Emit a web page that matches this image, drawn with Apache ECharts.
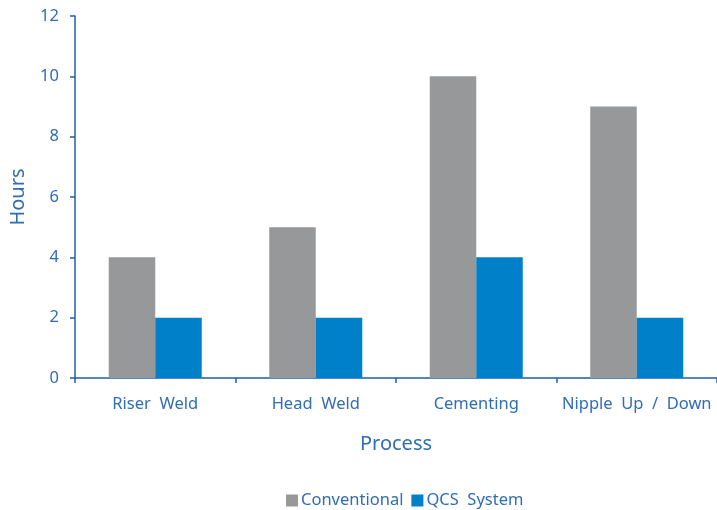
<!DOCTYPE html>
<html><head><meta charset="utf-8">
<script src="https://cdn.jsdelivr.net/npm/echarts@6/dist/echarts.min.js"></script>
<style>html,body{margin:0;padding:0;background:#fff}#c{width:717px;height:510px}</style>
</head><body><div id="c"></div>
<script>
const categories = ['Riser  Weld', 'Head  Weld', 'Cementing', 'Nipple  Up  /  Down'];
const conventional = [4, 5, 10, 9];
const qcs = [2, 2, 4, 2];
const yTicks = [0, 2, 4, 6, 8, 10, 12];

const textColor = '#2f6db5';
const axisColor = '#1d5fad';
const font = 'Noto Sans';
const chart = echarts.init(document.getElementById('c'));
chart.setOption({
  animation: false,
  textStyle: { fontFamily: font },
  grid: { left: 75, right: -2, top: 16, bottom: 132, containLabel: false },
  legend: {
    top: 487, left: 281, itemWidth: 12, itemHeight: 12, itemGap: 8,
    icon: 'rect',
    textStyle: { color: textColor, fontSize: 16.5, fontFamily: font, padding: [0, 0, 0, -2] },
    data: ['Conventional', 'QCS  System']
  },
  xAxis: {
    type: 'category', data: categories,
    name: 'Process', nameLocation: 'middle', nameGap: 56,
    nameTextStyle: { color: textColor, fontSize: 20, fontFamily: font },
    axisLine: { lineStyle: { color: axisColor, width: 1.5 } },
    axisTick: { show: true, length: 5, lineStyle: { color: axisColor, width: 1.5 } },
    axisLabel: { color: textColor, fontSize: 16.5, margin: 18, interval: 0, fontFamily: font }
  },
  yAxis: {
    type: 'value', min: yTicks[0], max: yTicks[yTicks.length - 1], interval: 2,
    name: 'Hours', nameLocation: 'middle', nameGap: 47,
    nameTextStyle: { color: textColor, fontSize: 20, fontFamily: font },
    splitLine: { show: false },
    axisLine: { show: true, lineStyle: { color: axisColor, width: 1.5 } },
    axisTick: { show: true, length: 5, lineStyle: { color: axisColor, width: 1.5 } },
    axisLabel: { color: textColor, fontSize: 16.5, margin: 16, fontFamily: font }
  },
  series: [
    { name: 'Conventional', type: 'bar', data: conventional, barWidth: 46.5, barGap: '0%',
      itemStyle: { color: '#97989a' } },
    { name: 'QCS  System', type: 'bar', data: qcs, barWidth: 46.5,
      itemStyle: { color: '#0080c8' } }
  ]
});
</script></body></html>
